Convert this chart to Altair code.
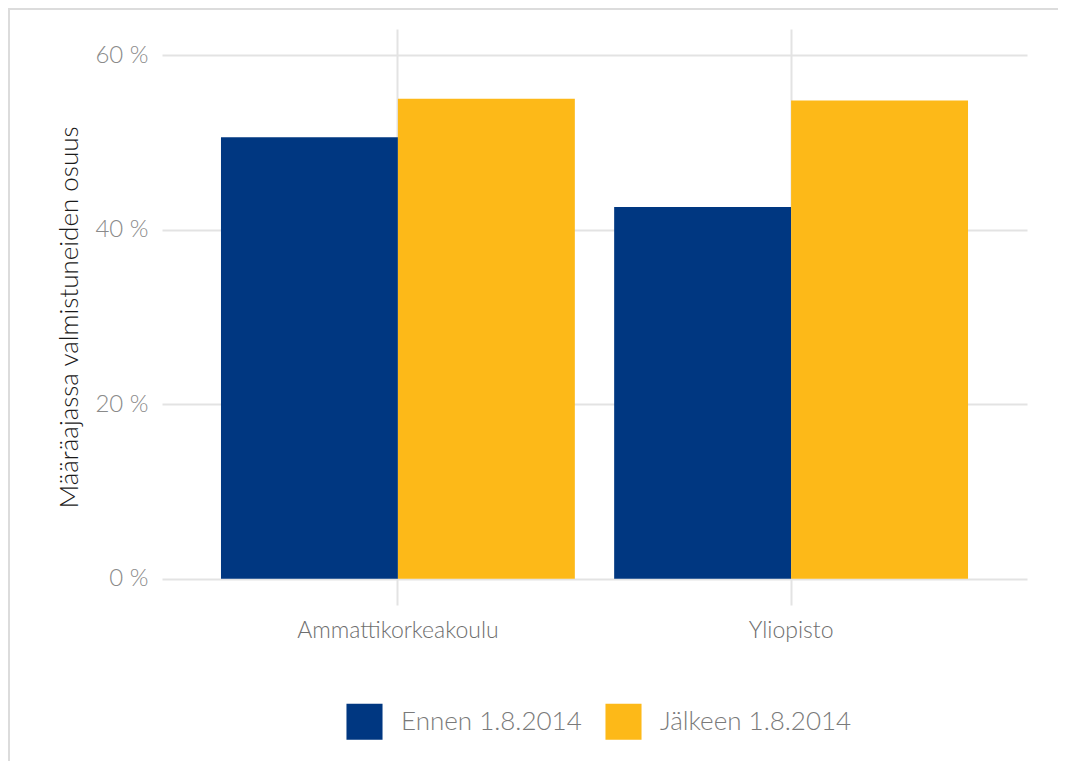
import altair as alt
import pandas as pd

categories = ["Ammattikorkeakoulu", "Yliopisto"]
groups = ["Ennen 1.8.2014", "Jälkeen 1.8.2014"]
ennen = [50.6, 42.6]
jalkeen = [55.0, 54.8]
colors = ["#003781", "#FDB918"]
y_ticks = [0, 20, 40, 60]

rows = []
for i, c in enumerate(categories):
    rows.append({"oppilaitos": c, "aika": groups[0], "osuus": ennen[i]})
    rows.append({"oppilaitos": c, "aika": groups[1], "osuus": jalkeen[i]})
df = pd.DataFrame(rows)

FONT = "Lato"

bars = alt.Chart(df).mark_bar().encode(
    x=alt.X("oppilaitos:N", sort=categories,
            scale=alt.Scale(paddingInner=0.1, paddingOuter=0.15),
            axis=alt.Axis(title=None, labelAngle=0, ticks=False, domain=False,
                          grid=True, gridColor="#e3e3e3", gridWidth=2,
                          labelFontSize=23, labelColor="#6e6e6e", labelFont=FONT,
                          labelFontWeight=300, labelPadding=14, labelLimit=400)),
    xOffset=alt.XOffset("aika:N", sort=groups),
    y=alt.Y("osuus:Q",
            scale=alt.Scale(domain=[-3, 63], nice=False, zero=False),
            axis=alt.Axis(title="Määräajassa valmistuneiden osuus",
                          values=y_ticks, labelExpr="datum.value + ' %'",
                          ticks=False, domain=False, grid=True,
                          gridColor="#e3e3e3", gridWidth=2,
                          labelFontSize=24, labelColor="#8a8a8a", labelFont=FONT,
                          labelFontWeight=300, labelPadding=14,
                          titleFont=FONT, titleFontWeight=300, titleFontSize=26,
                          titleColor="#1a1a1a", titlePadding=12)),
    color=alt.Color("aika:N", sort=groups,
                    scale=alt.Scale(domain=groups, range=colors),
                    legend=alt.Legend(title=None, orient="none", legendX=184, legendY=674,
                                      direction="horizontal",
                                      symbolType="square", symbolSize=1300,
                                      symbolStrokeWidth=0, symbolOpacity=1,
                                      labelFontSize=26, labelFont=FONT, labelLimit=400,
                                      labelFontWeight=300, labelColor="#7a7a7a",
                                      labelOffset=18, columnPadding=23)),
)

frame_df = pd.DataFrame({"k": [0]})
top_line = alt.Chart(frame_df).mark_rule(color="#dcdcdc", strokeWidth=2).encode(
    x=alt.value(-154), x2=alt.value(896), y=alt.value(-20))
left_line = alt.Chart(frame_df).mark_rule(color="#dcdcdc", strokeWidth=2).encode(
    x=alt.value(-153), y=alt.value(-21), y2=alt.value(740))

chart = alt.layer(bars, top_line, left_line).properties(
    width=865, height=576,
    autosize=alt.AutoSizeParams(type="none"),
    padding={"left": 154, "top": 21, "right": 31, "bottom": 156},
).configure(background="white").configure_view(strokeWidth=0, stroke="transparent")

chart.save("out.html", embed_options={"renderer": "svg", "actions": False})
